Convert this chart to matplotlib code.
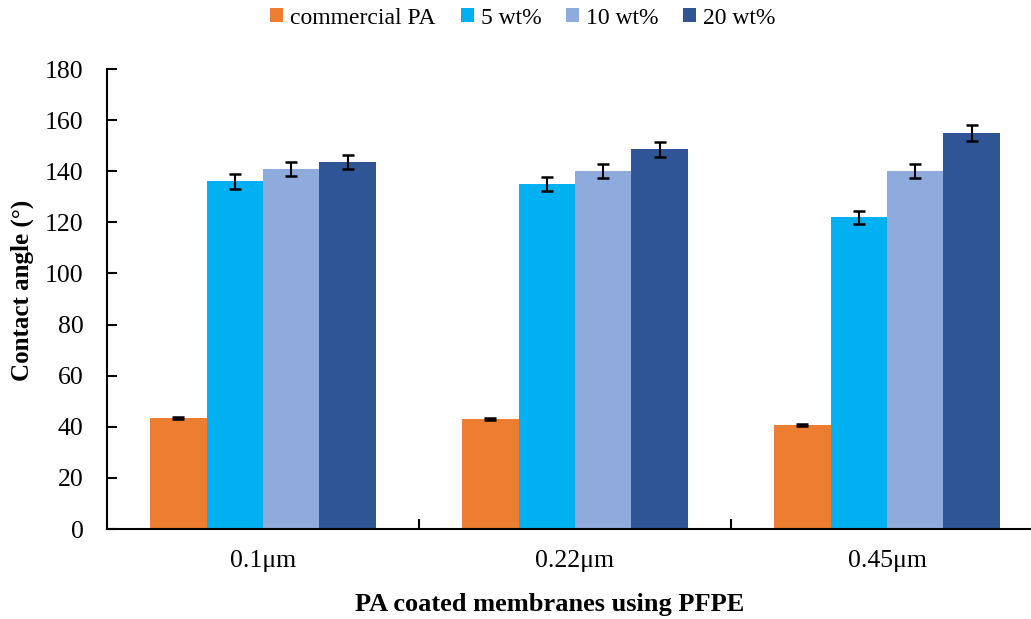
import matplotlib
matplotlib.use("Agg")
import matplotlib.pyplot as plt
import numpy as np
from matplotlib.patches import Patch

categories = ["0.1\u03bcm", "0.22\u03bcm", "0.45\u03bcm"]
series_names = ["commercial PA", "5 wt%", "10 wt%", "20 wt%"]
commercial = [43.4, 43.0, 40.7]
wt5 = [136.0, 135.0, 122.0]
wt10 = [141.0, 140.0, 140.0]
wt20 = [143.6, 148.6, 155.0]
err_commercial = [0.5, 0.4, 0.4]
err_wt5 = [2.8, 2.7, 2.5]
err_wt10 = [2.8, 2.7, 2.8]
err_wt20 = [2.9, 2.9, 3.2]
yticks = [0, 20, 40, 60, 80, 100, 120, 140, 160, 180]

colors = ["#ED7D31", "#00B0F0", "#8FAADC", "#2F5597"]
values = [commercial, wt5, wt10, wt20]
errors = [err_commercial, err_wt5, err_wt10, err_wt20]

plt.rcParams['font.family'] = ['Liberation Serif', 'DejaVu Serif']

fig = plt.figure(figsize=(10.31, 6.19), dpi=100)
ax = fig.add_axes([107/1031, 1-529/619, 936/1031, 460/619])

x = np.arange(len(categories))
bw = 0.181
for i, (vals, errs, c) in enumerate(zip(values, errors, colors)):
    pos = x + (i - 1.5) * bw
    ax.bar(pos, vals, width=bw, color=c, edgecolor='none', zorder=2)
    ax.errorbar(pos, vals, yerr=errs, fmt='none', ecolor='black',
                elinewidth=1.5, capsize=4.4, capthick=1.8, zorder=3)

ax.set_xlim(-0.5, 2.5)
ax.set_ylim(0, 180)
ax.set_yticks(yticks)
ax.set_xticks(x)
ax.set_xticklabels(categories)
ax.set_xticks([0.5, 1.5], minor=True)
ax.tick_params(axis='x', which='major', length=0, labelsize=18.5, pad=15)
ax.tick_params(axis='x', which='minor', length=7, width=1.5, direction='in')
ax.tick_params(axis='y', which='major', length=7, width=1.5, direction='in',
               labelsize=18.5, pad=17)
for s in ['top', 'right']:
    ax.spines[s].set_visible(False)
for s in ['left', 'bottom']:
    ax.spines[s].set_linewidth(1.5)

fig.text(22/1031, 1-290/619, "Contact angle (\u00b0)", fontsize=18, fontweight='bold',
         rotation=90, ha='center', va='center')
fig.text(550/1031, 1-604/619, "PA coated membranes using PFPE", fontsize=19,
         fontweight='bold', ha='center', va='center')

handles = [Patch(facecolor=c, edgecolor='none') for c in colors]
fig.legend(handles, series_names, loc='center', bbox_to_anchor=(523/1031, 1-18/619),
           ncol=4, frameon=False, fontsize=17, handlelength=0.55, handleheight=0.55,
           handletextpad=0.3, columnspacing=1.05)

fig.savefig("out.png", dpi=100)
